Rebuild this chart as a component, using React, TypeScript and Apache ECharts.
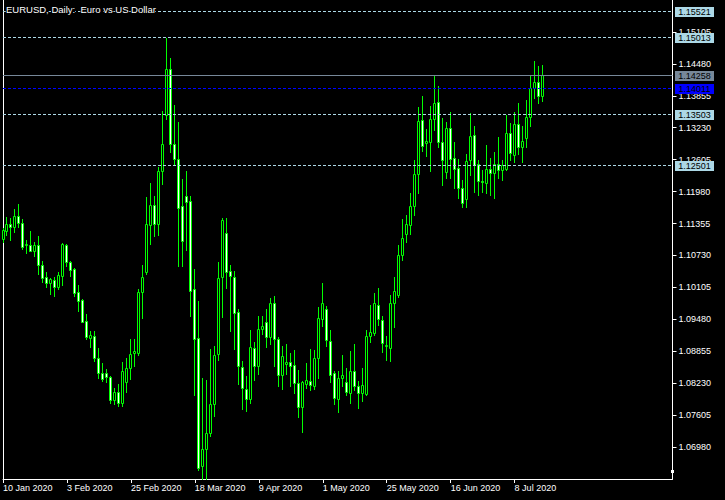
import React, { useEffect, useRef } from "react";
import * as echarts from "echarts";

const dates = [
  "2020-01-10","2020-01-13","2020-01-14","2020-01-15","2020-01-16","2020-01-17","2020-01-20","2020-01-21","2020-01-22","2020-01-23",
  "2020-01-24","2020-01-27","2020-01-28","2020-01-29","2020-01-30","2020-01-31","2020-02-03","2020-02-04","2020-02-05","2020-02-06",
  "2020-02-07","2020-02-10","2020-02-11","2020-02-12","2020-02-13","2020-02-14","2020-02-17","2020-02-18","2020-02-19","2020-02-20",
  "2020-02-21","2020-02-24","2020-02-25","2020-02-26","2020-02-27","2020-02-28","2020-03-02","2020-03-03","2020-03-04","2020-03-05",
  "2020-03-06","2020-03-09","2020-03-10","2020-03-11","2020-03-12","2020-03-13","2020-03-16","2020-03-17","2020-03-18","2020-03-19",
  "2020-03-20","2020-03-23","2020-03-24","2020-03-25","2020-03-26","2020-03-27","2020-03-30","2020-03-31","2020-04-01","2020-04-02",
  "2020-04-03","2020-04-06","2020-04-07","2020-04-08","2020-04-09","2020-04-10","2020-04-13","2020-04-14","2020-04-15","2020-04-16",
  "2020-04-17","2020-04-20","2020-04-21","2020-04-22","2020-04-23","2020-04-24","2020-04-27","2020-04-28","2020-04-29","2020-04-30",
  "2020-05-01","2020-05-04","2020-05-05","2020-05-06","2020-05-07","2020-05-08","2020-05-11","2020-05-12","2020-05-13","2020-05-14",
  "2020-05-15","2020-05-18","2020-05-19","2020-05-20","2020-05-21","2020-05-22","2020-05-25","2020-05-26","2020-05-27","2020-05-28",
  "2020-05-29","2020-06-01","2020-06-02","2020-06-03","2020-06-04","2020-06-05","2020-06-08","2020-06-09","2020-06-10","2020-06-11",
  "2020-06-12","2020-06-15","2020-06-16","2020-06-17","2020-06-18","2020-06-19","2020-06-22","2020-06-23","2020-06-24","2020-06-25",
  "2020-06-26","2020-06-29","2020-06-30","2020-07-01","2020-07-02","2020-07-03","2020-07-06","2020-07-07","2020-07-08","2020-07-09",
  "2020-07-10","2020-07-13","2020-07-14","2020-07-15","2020-07-16","2020-07-17"
];

const opens = [
  1.1105,1.1120,1.1135,1.1129,1.1150,1.1137,1.1093,1.1094,1.1082,1.1094,
  1.1055,1.1031,1.1020,1.1025,1.1012,1.1033,1.1094,1.1061,1.1046,1.1001,
  1.0985,1.0944,1.0911,1.0915,1.0872,1.0842,1.0842,1.0836,1.0790,1.0805,
  1.0785,1.0826,1.0853,1.0882,1.0883,1.1002,1.1040,1.1132,1.1171,1.1135,
  1.1238,1.1347,1.1438,1.1291,1.1262,1.1169,1.1190,1.1180,1.1008,1.0912,
  1.0661,1.0695,1.0726,1.0783,1.0881,1.1031,1.1117,1.1043,1.1031,1.0963,
  1.0855,1.0811,1.0792,1.0891,1.0857,1.0929,1.0943,1.0914,1.0980,1.0909,
  1.0839,1.0860,1.0864,1.0858,1.0824,1.0777,1.0822,1.0827,1.0818,1.0872,
  1.0949,1.0969,1.0906,1.0842,1.0792,1.0833,1.0826,1.0804,1.0847,1.0818,
  1.0804,1.0802,1.0916,1.0922,1.0977,1.0946,1.0895,1.0891,1.0980,1.0995,
  1.1074,1.1115,1.1132,1.1169,1.1233,1.1339,1.1294,1.1295,1.1340,1.1373,
  1.1295,1.1236,1.1322,1.1264,1.1244,1.1205,1.1184,1.1259,1.1309,1.1252,
  1.1219,1.1215,1.1242,1.1234,1.1252,1.1240,1.1242,1.1312,1.1269,1.1330,
  1.1285,1.1303,1.1344,1.1401,1.1413,1.1385
];

const highs = [
  1.1126,1.1149,1.1147,1.1164,1.1174,1.1145,1.1104,1.1120,1.1100,1.1111,
  1.1063,1.1040,1.1029,1.1030,1.1041,1.1098,1.1096,1.1063,1.1049,1.1016,
  1.0987,1.0959,1.0925,1.0925,1.0891,1.0863,1.0851,1.0837,1.0813,1.0822,
  1.0865,1.0873,1.0910,1.0910,1.1008,1.1055,1.1187,1.1215,1.1190,1.1246,
  1.1356,1.1498,1.1460,1.1368,1.1335,1.1223,1.1239,1.1190,1.1047,1.0983,
  1.0833,1.0829,1.0889,1.0896,1.1061,1.1147,1.1147,1.1055,1.1042,1.0969,
  1.0866,1.0837,1.0928,1.0903,1.0954,1.0954,1.0969,1.0989,1.0993,1.0913,
  1.0896,1.0899,1.0882,1.0888,1.0848,1.0827,1.0862,1.0889,1.0888,1.0973,
  1.1019,1.0975,1.0928,1.0846,1.0847,1.0878,1.0852,1.0887,1.0899,1.0827,
  1.0852,1.0928,1.0977,1.1000,1.1010,1.0954,1.0915,1.0995,1.1030,1.1093,
  1.1145,1.1153,1.1196,1.1260,1.1364,1.1385,1.1320,1.1366,1.1425,1.1405,
  1.1342,1.1335,1.1354,1.1296,1.1262,1.1220,1.1272,1.1352,1.1327,1.1260,
  1.1241,1.1290,1.1264,1.1276,1.1305,1.1259,1.1348,1.1333,1.1354,1.1371,
  1.1327,1.1378,1.1425,1.1454,1.1444,1.1446
];

const lows = [
  1.1100,1.1113,1.1104,1.1118,1.1129,1.1086,1.1078,1.1081,1.1072,1.1036,
  1.1021,1.1011,1.0998,1.0994,1.1008,1.1016,1.1052,1.1033,1.0994,1.0964,
  1.0942,1.0909,1.0893,1.0867,1.0834,1.0827,1.0826,1.0785,1.0782,1.0779,
  1.0779,1.0806,1.0831,1.0856,1.0878,1.0950,1.1036,1.1095,1.1112,1.1113,
  1.1212,1.1340,1.1275,1.1251,1.1053,1.1053,1.1083,1.0954,1.0800,1.0653,
  1.0636,1.0636,1.0720,1.0759,1.0868,1.0952,1.1010,1.0925,1.0889,1.0822,
  1.0772,1.0769,1.0785,1.0829,1.0841,1.0919,1.0894,1.0899,1.0857,1.0818,
  1.0812,1.0841,1.0818,1.0804,1.0757,1.0728,1.0814,1.0810,1.0812,1.0833,
  1.0935,1.0896,1.0826,1.0783,1.0767,1.0818,1.0800,1.0785,1.0810,1.0775,
  1.0789,1.0800,1.0903,1.0918,1.0937,1.0884,1.0868,1.0866,1.0933,1.0991,
  1.1065,1.1099,1.1115,1.1152,1.1195,1.1277,1.1267,1.1239,1.1319,1.1286,
  1.1210,1.1225,1.1225,1.1206,1.1186,1.1167,1.1167,1.1231,1.1197,1.1191,
  1.1197,1.1195,1.1191,1.1185,1.1224,1.1220,1.1240,1.1259,1.1255,1.1272,
  1.1255,1.1285,1.1327,1.1381,1.1371,1.1375
];

const closes = [
  1.1122,1.1135,1.1129,1.1150,1.1137,1.1090,1.1096,1.1082,1.1094,1.1055,
  1.1028,1.1020,1.1026,1.1012,1.1034,1.1096,1.1061,1.1044,1.0999,1.0984,
  1.0943,1.0913,1.0917,1.0872,1.0842,1.0832,1.0836,1.0790,1.0805,1.0785,
  1.0847,1.0853,1.0881,1.0886,1.1002,1.1031,1.1135,1.1171,1.1135,1.1238,
  1.1291,1.1438,1.1291,1.1262,1.1166,1.1101,1.1178,1.1004,1.0909,1.0658,
  1.0694,1.0725,1.0782,1.0879,1.1029,1.1143,1.1041,1.1033,1.0960,1.0857,
  1.0814,1.0792,1.0893,1.0857,1.0930,1.0935,1.0914,1.0980,1.0909,1.0839,
  1.0876,1.0864,1.0857,1.0824,1.0777,1.0826,1.0829,1.0820,1.0873,1.0951,
  1.0980,1.0908,1.0839,1.0794,1.0834,1.0840,1.0806,1.0847,1.0818,1.0804,
  1.0820,1.0915,1.0924,1.0979,1.0949,1.0902,1.0898,1.0980,1.1003,1.1074,
  1.1107,1.1134,1.1169,1.1233,1.1337,1.1287,1.1297,1.1340,1.1371,1.1296,
  1.1260,1.1322,1.1262,1.1242,1.1205,1.1176,1.1257,1.1307,1.1251,1.1218,
  1.1217,1.1242,1.1234,1.1252,1.1240,1.1250,1.1312,1.1274,1.1330,1.1285,
  1.1297,1.1344,1.1401,1.1413,1.1385,1.1427
];

// price axis: MT5 grid step and range
const priceMin = 1.06355;
const priceMax = 1.1573;
const priceStep = 0.00625;

// horizontal levels (kind 0 = level line, 1 = bid line, 2 = ask line)
const levelPrices = [1.15521, 1.15013, 1.13503, 1.12501];
const bidPrice = 1.14258;
const askPrice = 1.14011;

// date ticks (bar indexes)
const xTickIdx = [0, 16, 32, 48, 64, 80, 96, 112, 128];
const MONTHS = ["Jan","Feb","Mar","Apr","May","Jun","Jul","Aug","Sep","Oct","Nov","Dec"];

const TITLE = "EURUSD, Daily:  Euro vs US Dollar";
const FONT = '"Liberation Sans", Arial, sans-serif';

const LEVEL_STYLES = [
  { color: "#ADD8E6", dash: [3, 2] as number[] | null },
  { color: "#778899", dash: null },
  { color: "#0000FF", dash: [3, 2] },
];

function fmtDate(s: string | undefined): string {
  if (!s) return "";
  const [y, m, d] = s.split("-");
  return `${parseInt(d, 10)} ${MONTHS[parseInt(m, 10) - 1]} ${y}`;
}

export default function App() {
  const ref = useRef<HTMLDivElement>(null);

  useEffect(() => {
    if (!ref.current) return;
    const chart = echarts.init(ref.current, undefined, { renderer: "svg" });

    const candleData = dates.map((_, i) => [i, opens[i], highs[i], lows[i], closes[i]]);
    const levelData = [
      ...levelPrices.map((p) => [p, 0]),
      [bidPrice, 1],
      [askPrice, 2],
    ];

    const option: any = {
      animation: false,
      backgroundColor: "#000000",
      title: {
        text: TITLE,
        left: 6,
        top: 4,
        padding: 0,
        z: 10,
        textStyle: {
          color: "#ffffff",
          fontSize: 9.5,
          fontWeight: "normal",
          fontFamily: FONT,
          textBorderColor: "#000",
          textBorderWidth: 2,
        },
      },
      grid: { left: 2.5, right: 52.5, top: -1, bottom: 21, containLabel: false },
      xAxis: {
        type: "value",
        min: 0,
        max: 167.5,
        axisLine: { show: true, onZero: false, lineStyle: { color: "#ffffff", width: 1 } },
        axisTick: { show: true, length: 4, lineStyle: { color: "#ffffff" }, customValues: xTickIdx },
        axisLabel: {
          show: true,
          customValues: xTickIdx,
          formatter: (v: number) => fmtDate(dates[Math.round(v)]),
          color: "#ffffff",
          fontSize: 9,
          fontFamily: FONT,
          align: "left",
          margin: 4,
        },
        splitLine: { show: false },
      },
      yAxis: [
        {
          type: "value",
          position: "right",
          min: priceMin,
          max: priceMax,
          interval: priceStep,
          axisLine: { show: true, onZero: false, lineStyle: { color: "#ffffff", width: 1 } },
          axisTick: { show: true, length: 4, lineStyle: { color: "#ffffff" } },
          axisLabel: {
            color: "#ffffff",
            fontSize: 9,
            fontFamily: FONT,
            margin: 6,
            showMinLabel: false,
            showMaxLabel: false,
            formatter: (v: number) => v.toFixed(5),
          },
          splitLine: { show: false },
        },
        {
          type: "value",
          position: "left",
          min: priceMin,
          max: priceMax,
          axisLine: { show: true, onZero: false, lineStyle: { color: "#ffffff", width: 1 } },
          axisTick: { show: false },
          axisLabel: { show: false },
          splitLine: { show: false },
        },
      ],
      series: [
        {
          type: "custom",
          name: "EURUSD",
          xAxisIndex: 0,
          yAxisIndex: 0,
          silent: true,
          z: 2,
          encode: { x: 0, y: [1, 2, 3, 4] },
          data: candleData,
          renderItem: (params: any, api: any) => {
            const i = api.value(0);
            const o = api.value(1);
            const h = api.value(2);
            const l = api.value(3);
            const c = api.value(4);
            const po = api.coord([i, o]);
            const pc = api.coord([i, c]);
            const ph = api.coord([i, h]);
            const pl = api.coord([i, l]);
            const cx = Math.floor(po[0]) + 0.5;
            const rTop = Math.round(Math.min(po[1], pc[1]));
            const rBot = Math.round(Math.max(po[1], pc[1]));
            const rH = Math.round(ph[1]);
            const rL = Math.round(pl[1]);
            const bull = c >= o;
            const children: any[] = [
              {
                type: "line",
                shape: { x1: cx, y1: rH, x2: cx, y2: rL + 1 },
                style: { stroke: "#00ff00", lineWidth: 1 },
              },
            ];
            if (rBot - rTop < 1) {
              children.push({
                type: "line",
                shape: { x1: cx - 1.5, y1: rTop + 0.5, x2: cx + 1.5, y2: rTop + 0.5 },
                style: { stroke: "#00ff00", lineWidth: 1 },
              });
            } else {
              children.push({
                type: "rect",
                shape: { x: cx - 1, y: rTop + 0.5, width: 2, height: rBot - rTop },
                style: { fill: bull ? "#000000" : "#ffffff", stroke: "#00ff00", lineWidth: 1 },
              });
            }
            return { type: "group", children };
          },
        },
        {
          type: "custom",
          name: "levels",
          xAxisIndex: 0,
          yAxisIndex: 0,
          silent: true,
          clip: false,
          z: 5,
          encode: { x: 1, y: 0 },
          data: levelData,
          renderItem: (params: any, api: any) => {
            const p = api.value(0);
            const kind = api.value(1);
            const st = LEVEL_STYLES[kind];
            const y = api.coord([0, p])[1];
            const row = Math.round(y);
            const cs = params.coordSys;
            const right = cs.x + cs.width;
            return {
              type: "group",
              children: [
                {
                  type: "line",
                  shape: { x1: cs.x, y1: row + 0.5, x2: right, y2: row + 0.5 },
                  style: { stroke: st.color, lineWidth: 1, lineDash: st.dash || undefined },
                },
                {
                  type: "rect",
                  shape: { x: right + 2.5, y: row - 4, width: 39, height: 10 },
                  style: { fill: st.color },
                },
                {
                  type: "text",
                  style: {
                    text: p.toFixed(5),
                    x: right + 22,
                    y: row + 1,
                    textAlign: "center",
                    textVerticalAlign: "middle",
                    fill: "#000000",
                    font: `9px ${FONT}`,
                  },
                },
              ],
            };
          },
        },
      ],
      graphic: [
        { type: "rect", shape: { x: 671, y: 470, width: 3, height: 3 }, style: { fill: "#ffffff" }, silent: true },
      ],
    };

    chart.setOption(option);
    return () => chart.dispose();
  }, []);

  return (
    <div
      ref={ref}
      style={{ position: "absolute", left: 0, top: 0, width: 725, height: 500, background: "#000" }}
    />
  );
}
